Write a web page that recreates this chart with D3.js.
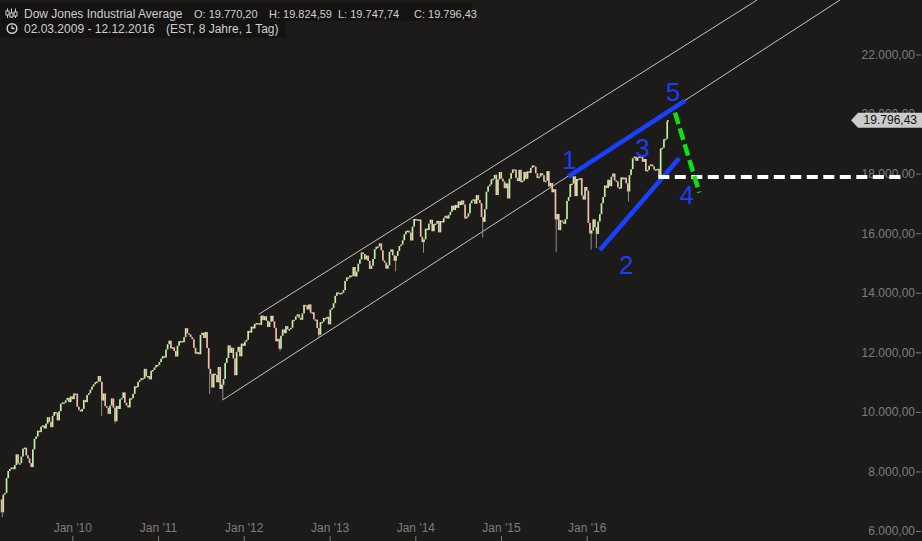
<!DOCTYPE html>
<html><head><meta charset="utf-8">
<script src="https://cdn.jsdelivr.net/npm/d3@7"></script>
<style>
html,body{margin:0;padding:0;background:#1c1b1a;overflow:hidden;}
svg{display:block;}
text{font-family:"Liberation Sans",Arial,sans-serif;}
</style></head><body>
<svg id="chart" width="922" height="541"></svg>
<script>
// ---------- DATA (weekly closes) ----------
const firstOpen = 7063;
const close2009 = [6627,7224,7278,7776, 8018,8083,8131,8076, 8212,8575,8268,8277,8500, 8764,8799,8539,8438, 8280,8146,8743,9093,9171, 9370,9321,9505,9544, 9441,9605,9820,9665, 9487,9865,9995,9972,9713, 10023,10270,10318,10310, 10388,10471,10328,10520,10428];
const close2010 = [10618,10609,10172,10067, 10012,10099,10402,10325, 10566,10625,10742,10850, 10927,10997,11019,11204,11009, 10380,10620,10193,10137, 9931,10211,10450,10144, 9686,10198,10097,10424,10466, 10653,10303,10213,10150, 10448,10462,10607,10860, 10829,11006,11062,11133,11118, 11444,11192,11204,11092, 11382,11410,11491,11573,11577];
const close2011 = [11674,11787,11871,11823, 12092,12273,12391,12130, 12169,12044,11858,12220, 12376,12380,12341,12506,12811, 12638,12596,12512,12441, 12151,11952,12004,11934, 12582,12657,12480,12681,12143, 11444,11269,10817,11285, 11240,10992,11509,10771,10913, 11103,11644,11809,12231, 11983,12153,11796,11231, 12019,12184,11866,12294,12218];
const close2012 = [12360,12422,12720,12660, 12862,12801,12950,12983, 12978,12922,13233,13081,13212, 13060,12850,13029,13228, 13038,12821,12369,12455, 12119,12555,12767,12640,12880, 12773,12777,12822,13076, 13096,13207,13275,13158,13090, 13306,13593,13579,13437, 13610,13329,13343,13107, 13093,12815,12588,13010,13025, 13155,13135,13190,12938];
const close2013 = [13435,13488,13650,13896, 14009,13993,13981,14001, 14090,14397,14515,14512,14579, 14565,14865,14547,14712, 14974,15118,15354,15303,15116, 15248,15070,14800,14910, 15136,15464,15544,15559, 15658,15425,15081,15010,14810, 14922,15376,15452,15258, 15073,15237,15400,15570, 15615,15762,15962,16065,16086, 16021,15755,16221,16479];
const close2014 = [16469,16437,16459,15879,15699, 15794,16154,16103,16322, 16453,16065,16303,16323, 16413,16027,16409,16361, 16513,16584,16491,16606,16717, 16924,16776,16948,16851, 17068,16944,17100,16961, 16493,16554,16663,17001,17098, 17138,16988,17280,17113, 17009,16544,16380,16805,17391, 17573,17634,17810,17828, 17959,17281,17805,18053];
const close2015 = [17833,17737,17512,17672,17165, 17825,18019,18141,18133, 17857,17749,18128,17713, 17763,18058,17827,18080, 18025,18192,18273,18232,18011, 17849,17899,18016,17947, 17730,17760,18086,17569,17690, 17373,17477,16460,16643, 16102,16433,16385,16315, 16472,17084,17215,17647,17664, 17910,17245,17824,17798, 17848,17265,17128,17552,17425];
const close2016 = [16346,15988,16094,16466, 16205,15974,16392,16640, 17006,17213,17602,17516, 17793,17577,17897,18004,17774, 17740,17535,17501,17873, 17807,17865,17675,17400,17949, 18147,18516,18571,18432, 18544,18577,18553,18395, 18492,18085,18124,18262,18308, 18240,18138,18146,18161, 17888,18848,18868,19153, 19171,19757];
const lastDate = "2016-12-12";
const lastClose = 19796.43;

// intraday lows (wicks) visible as spikes
const spikeDates = ["2009-03-09","2010-05-06","2010-07-02","2011-08-09","2011-10-04","2012-06-04","2012-11-16","2013-10-09","2014-02-05","2014-10-15","2015-08-24","2016-01-20","2016-02-11","2016-06-27","2016-11-04"];
const spikeLows  = [6470,9870,9614,10604,10404,12035,12471,14719,15340,15855,15370,15451,15503,17063,17883];

// axis ticks
const yTicks = [6000,8000,10000,12000,14000,16000,18000,20000,22000];
const xTickDates = ["2010-01-01","2011-01-01","2012-01-01","2013-01-01","2014-01-01","2015-01-01","2016-01-01"];

// trend channel
const channelUpperDates = ["2012-03-05","2017-12-27"], channelUpperValues = [13277,23831];
const channelLowerDates = ["2011-10-03","2018-12-15"], channelLowerValues = [10399,23831];

// wave annotations
const blueLine1Dates = ["2015-10-14","2017-02-23"], blueLine1Values = [17897,20449];
const blueLine2Dates = ["2016-02-26","2017-01-29"], blueLine2Values = [15436,18515];
const greenDashDates = ["2017-01-11","2017-04-25"], greenDashValues = [20047,17360];
const whiteDashDates = ["2016-11-01","2019-09-17"], whiteDashValues = [17887,17887];
const waveLabels = ["1","2","3","4","5"];
const waveLabelDates = ["2015-10-19","2016-06-17","2016-08-26","2017-03-02","2017-01-02"];
const waveLabelValues = [18458,14932,18851,17283,20752];

// header
const title = "Dow Jones Industrial Average";
const ohlcLabels = ["O: 19.770,20","H: 19.824,59","L: 19.747,74","C: 19.796,43"];
const rangeText = "02.03.2009 - 12.12.2016";
const infoText = "(EST, 8 Jahre, 1 Tag)";
const lastLabel = "19.796,43";

// ---------- CHART ----------
const parse = d3.timeParse("%Y-%m-%d");
const svg = d3.select("#chart");
const W = 922, H = 541;
svg.append("rect").attr("width",W).attr("height",H).attr("fill","#1c1b1a");

const x = d3.scaleTime().domain([new Date(2010,0,1), new Date(2016,0,1)]).range([72.3, 586.7]);
const y = d3.scaleLinear().domain([6000,22000]).range([531,54.5]);

const closes = [].concat(close2009,close2010,close2011,close2012,close2013,close2014,close2015,close2016,[lastClose]);
const dates = d3.timeFriday.range(new Date(2009,2,6), new Date(2016,11,10)).concat([parse(lastDate)]);
const candles = closes.map((c,i)=>({date:dates[i], open: i===0?firstOpen:closes[i-1], close:c}));

// channel lines
const line = d3.line().x(d=>x(d[0])).y(d=>y(d[1]));
function seg(ds, vs){ return ds.map((d,i)=>[parse(d), vs[i]]); }
svg.append("path").attr("d", line(seg(channelUpperDates,channelUpperValues)))
  .attr("stroke","#c4c4c4").attr("stroke-width",1).attr("fill","none");
svg.append("path").attr("d", line(seg(channelLowerDates,channelLowerValues)))
  .attr("stroke","#c4c4c4").attr("stroke-width",1).attr("fill","none");

// wicks
const g = svg.append("g");
spikeDates.forEach((ds,k)=>{
  const d = parse(ds);
  let i = d3.bisectLeft(dates, d); if (i>=candles.length) i=candles.length-1;
  const c = candles[i];
  g.append("line").attr("x1",x(d)).attr("x2",x(d))
    .attr("y1",y(spikeLows[k])).attr("y2",y(Math.min(c.open,c.close)))
    .attr("stroke","#8e8e8e").attr("stroke-width",1);
});
// candle bodies
g.selectAll("rect.c").data(candles).join("rect").attr("class","c")
  .attr("x", d=>x(d.date)-0.85).attr("width",1.7)
  .attr("y", d=>y(Math.max(d.open,d.close)))
  .attr("height", d=>Math.max(1.5, Math.abs(y(d.open)-y(d.close))))
  .attr("fill", d=>d.close>=d.open ? "#c2f0a6" : "#f5bcb0");

// y axis
const fmtLocale = d3.formatLocale({decimal:",", thousands:".", grouping:[3], currency:["",""]});
const fmt = fmtLocale.format(",.2f");
const yAxis = svg.append("g").attr("transform","translate(921,0)")
  .call(d3.axisLeft(y).tickValues(yTicks).tickSize(5).tickPadding(1).tickFormat(fmt));
yAxis.select(".domain").remove();
yAxis.selectAll("line").attr("stroke","#7d7d7d");
yAxis.selectAll("text").attr("fill","#7d7d7d").attr("font-size",12).attr("font-family","Liberation Sans, Arial, sans-serif");

// x axis
const xAxis = svg.append("g").attr("transform","translate(0,536)")
  .call(d3.axisBottom(x).tickValues(xTickDates.map(parse)).tickSize(5)
    .tickFormat(d=>d3.timeFormat("%b '%y")(d)));
xAxis.select(".domain").remove();
xAxis.selectAll("line").attr("stroke","#7d7d7d");
xAxis.selectAll("text").attr("fill","#7d7d7d").attr("font-size",12).attr("y",-4).attr("dy",0)
  .attr("font-family","Liberation Sans, Arial, sans-serif");

// wave annotation lines
svg.append("path").attr("d", line(seg(blueLine1Dates,blueLine1Values)))
  .attr("stroke","#1a40ff").attr("stroke-width",4.5).attr("fill","none");
svg.append("path").attr("d", line(seg(blueLine2Dates,blueLine2Values)))
  .attr("stroke","#1a40ff").attr("stroke-width",4.5).attr("fill","none");
svg.append("path").attr("d", line(seg(whiteDashDates,whiteDashValues)))
  .attr("stroke","#ffffff").attr("stroke-width",4).attr("stroke-dasharray","11,5.5").attr("fill","none");
svg.append("path").attr("d", line(seg(greenDashDates,greenDashValues)))
  .attr("stroke","#10e010").attr("stroke-width",4.5).attr("stroke-dasharray","12,4.5").attr("fill","none");

svg.selectAll("text.wave").data(waveLabels).join("text").attr("class","wave")
  .attr("x",(d,i)=>x(parse(waveLabelDates[i]))).attr("y",(d,i)=>y(waveLabelValues[i]))
  .attr("text-anchor","middle").attr("dominant-baseline","central")
  .attr("font-size",26).attr("fill","#1d3ef0").text(d=>d);

// last price label
const ly = y(lastClose);
svg.append("path").attr("d", d3.line()([[851,ly],[858,ly-7.5],[922,ly-7.5],[922,ly+7.5],[858,ly+7.5]]) + "Z")
  .attr("fill","#cbcbcb");
svg.append("text").attr("x",917).attr("y",ly).attr("dy","0.35em").attr("text-anchor","end")
  .attr("font-size",12).attr("fill","#111").text(lastLabel);

// header
svg.append("rect").attr("x",0).attr("y",3).attr("width",472).attr("height",18).attr("fill","#141312");
svg.append("rect").attr("x",0).attr("y",21).attr("width",286).attr("height",17).attr("fill","#141312");
const hdr = svg.append("g").attr("fill","#cfcfcf").attr("font-size",12);
hdr.append("text").attr("x",24).attr("y",17.5).text(title);
const ohlcX = [194,269,338,414];
ohlcLabels.forEach((t,i)=>hdr.append("text").attr("x",ohlcX[i]).attr("y",17.5).attr("font-size",11).text(t));
hdr.append("text").attr("x",24).attr("y",32.7).text(rangeText);
hdr.append("text").attr("x",166).attr("y",32.7).text(infoText);
// icons
const ic = svg.append("g").attr("stroke","#cfcfcf").attr("stroke-width",1).attr("fill","none");
[[7.5,11],[11.5,13],[15.5,12]].forEach(([cx,by])=>{
  ic.append("line").attr("x1",cx).attr("x2",cx).attr("y1",8.5).attr("y2",18);
  ic.append("rect").attr("x",cx-1.5).attr("y",by).attr("width",3).attr("height",4).attr("fill","#141312");
});
ic.append("circle").attr("cx",12).attr("cy",28.5).attr("r",4.8).attr("stroke-width",1.5);
ic.append("path").attr("d","M12,25.5V28.5H14.5").attr("stroke-width",1.3);
</script>
</body></html>
